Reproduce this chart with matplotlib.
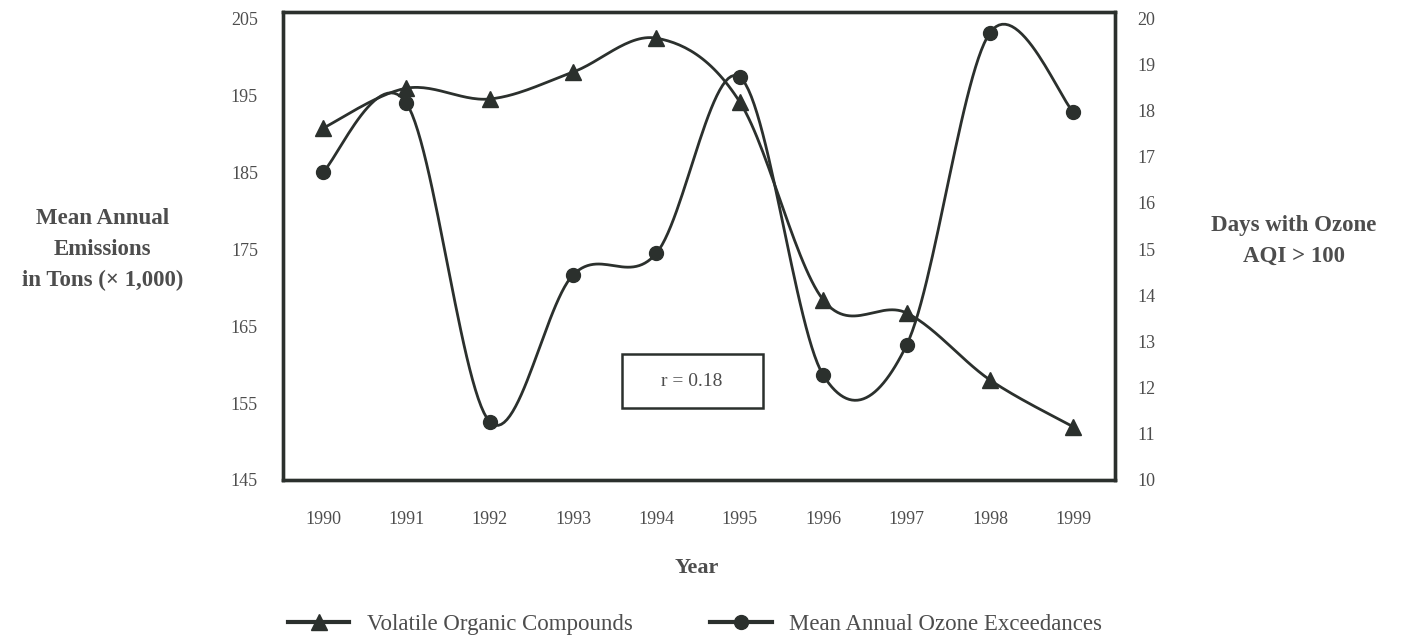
import matplotlib.pyplot as plt
import numpy as np
from matplotlib.patches import Rectangle
from matplotlib.lines import Line2D

years = [1990, 1991, 1992, 1993, 1994, 1995, 1996, 1997, 1998, 1999]
voc = [190.7, 195.9, 194.5, 198.0, 202.4, 194.1, 168.4, 166.7, 158.0, 151.9]
ozone = [16.67, 18.16, 11.26, 14.44, 14.91, 18.72, 12.27, 12.92, 19.68, 17.97]
left_ticks = [145, 155, 165, 175, 185, 195, 205]
right_ticks = list(range(10, 21))

ink = '#2b302d'
grey = '#4d4d4d'
plt.rcParams['font.family'] = ['Liberation Serif', 'DejaVu Serif']


def smooth(xs, ys, n=30):
    # Excel style smoothed line (Catmull-Rom through the points)
    p = np.column_stack([xs, ys]).astype(float)
    p = np.vstack([p[0], p, p[-1]])
    out = []
    t = np.linspace(0, 1, n)[:, None]
    for i in range(1, len(p) - 2):
        p0, p1, p2, p3 = p[i - 1], p[i], p[i + 1], p[i + 2]
        c1 = p1 + (p2 - p0) / 6
        c2 = p2 - (p3 - p1) / 6
        seg = ((1 - t) ** 3) * p1 + 3 * ((1 - t) ** 2) * t * c1 + 3 * (1 - t) * t ** 2 * c2 + t ** 3 * p2
        out.append(seg if i == 1 else seg[1:])
    out = np.vstack(out)
    return out[:, 0], out[:, 1]


fig = plt.figure(figsize=(14.05, 6.4), dpi=100)
ax = fig.add_axes([0.2014, 0.25, 0.5922, 0.73125])
ax2 = ax.twinx()

sx, sy = smooth(years, voc)
ax.plot(sx, sy, color=ink, lw=2.0, solid_capstyle='round')
ax.plot(years, voc, ls='none', marker='^', ms=12, color=ink)

sx, sy = smooth(years, ozone)
ax2.plot(sx, sy, color=ink, lw=2.0, solid_capstyle='round')
ax2.plot(years, ozone, ls='none', marker='o', ms=10, color=ink)

ax.set_xlim(1989.52, 1999.5)
ax.set_ylim(145, 205.8)
ax2.set_ylim(10, 20.13)
ax.set_xticks(years)
ax.set_xticklabels([str(y) for y in years])
ax.set_yticks(left_ticks)
ax2.set_yticks(right_ticks)

for a in (ax, ax2):
    for s in a.spines.values():
        s.set_linewidth(2.4)
        s.set_color(ink)
    a.tick_params(length=0, labelsize=13, labelcolor=grey)
ax.tick_params(axis='y', pad=18)
ax.tick_params(axis='x', pad=22)
ax2.tick_params(axis='y', pad=16)

fig.text(0.073, 0.61, 'Mean Annual\nEmissions\nin Tons (\u00d7 1,000)', ha='center', va='center',
         fontsize=16.5, fontweight='bold', color=grey, linespacing=1.6)
fig.text(0.921, 0.623, 'Days with Ozone\nAQI > 100', ha='center', va='center',
         fontsize=16.5, fontweight='bold', color=grey, linespacing=1.6)
fig.text(0.496, 0.112, 'Year', ha='center', va='center', fontsize=16, fontweight='bold', color=grey)

# correlation box
fig.patches.append(Rectangle((622 / 1405, 1 - 408 / 640), 141 / 1405, 54 / 640,
                             transform=fig.transFigure, fill=False, ec=ink, lw=1.8))
fig.text(692 / 1405, 1 - 382 / 640, 'r = 0.18', ha='center', va='center', fontsize=14, color=grey)

handles = [Line2D([], [], color=ink, lw=3, marker='^', ms=12),
           Line2D([], [], color=ink, lw=3, marker='o', ms=10)]
fig.legend(handles, ['Volatile Organic Compounds', 'Mean Annual Ozone Exceedances'],
           loc='center left', bbox_to_anchor=(0.19, 0.024), ncol=2, frameon=False,
           fontsize=16.5, labelcolor=grey, handlelength=2.7, handletextpad=0.75, columnspacing=3.4)

fig.savefig('out.png', dpi=100)
